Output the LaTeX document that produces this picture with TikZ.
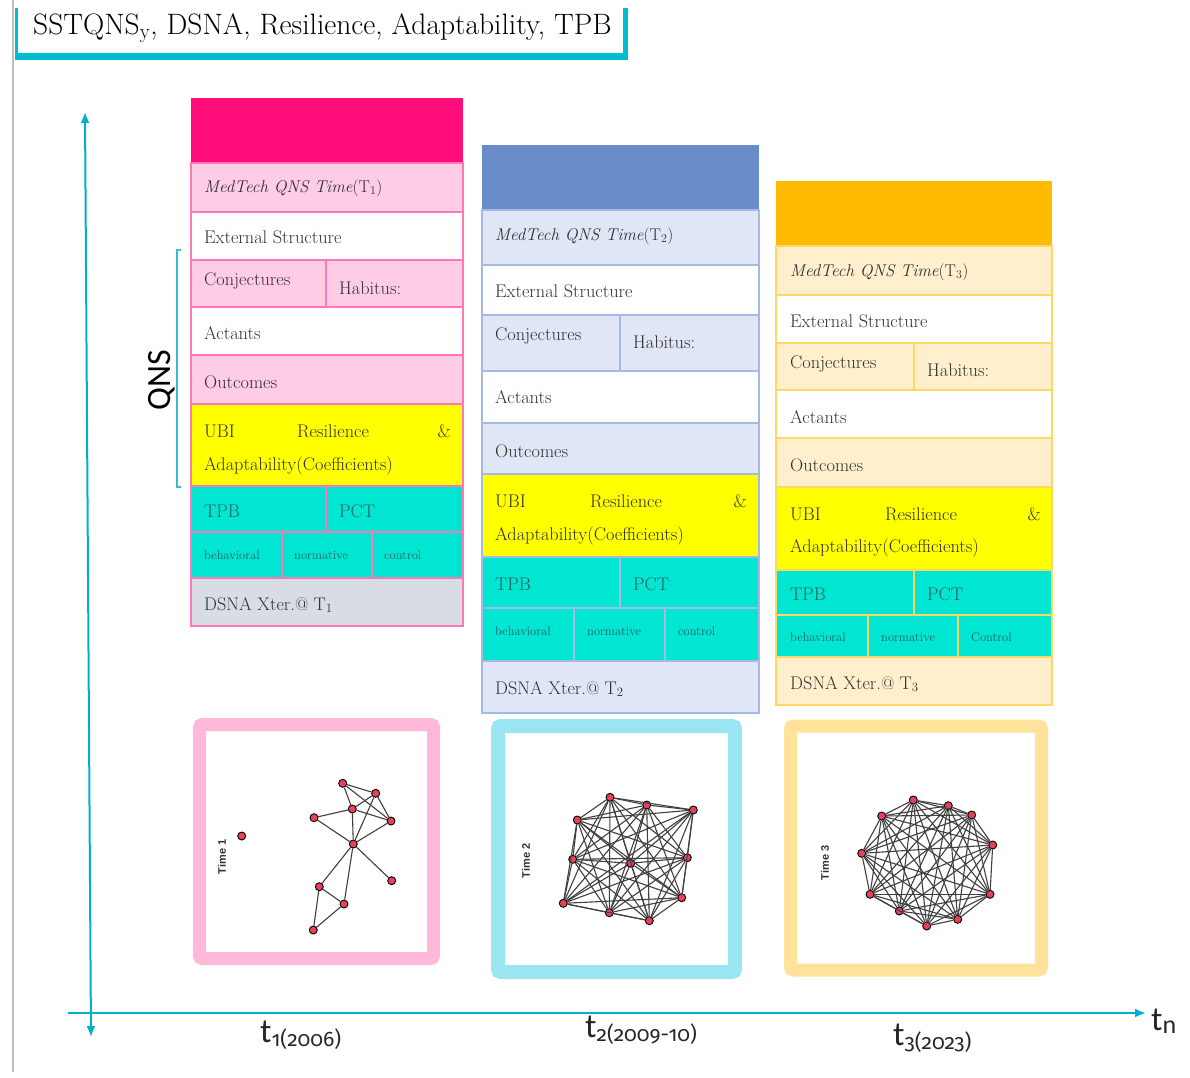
\documentclass[tikz,border=0pt]{standalone}
\usepackage{fontspec}
\newfontfamily\calib{Carlito}
\newfontfamily\oldnum[Numbers=OldStyle]{Fira Sans}
\newfontfamily\arialf{Liberation Sans}
\usetikzlibrary{arrows.meta}
\definecolor{magentaH}{HTML}{FF0D7B}
\definecolor{pinkL}{HTML}{FFCCE5}
\definecolor{pinkB}{HTML}{FF77B4}
\definecolor{blueH}{HTML}{6A8BCA}
\definecolor{blueL}{HTML}{E0E6F5}
\definecolor{blueB}{HTML}{A6B8E4}
\definecolor{orangeH}{HTML}{FFBB00}
\definecolor{creamL}{HTML}{FFEFCC}
\definecolor{orangeB}{HTML}{FFD863}
\definecolor{yellowU}{HTML}{FFFF00}
\definecolor{tealC}{HTML}{00E6D3}
\definecolor{grayD}{HTML}{D8DCE4}
\definecolor{txtgray}{HTML}{303030}
\definecolor{tealtxt}{HTML}{2A5F5B}
\definecolor{axisteal}{HTML}{00AFC8}
\definecolor{titlebar}{HTML}{00BCD0}
\definecolor{framePink}{HTML}{FFB8D8}
\definecolor{frameCyan}{HTML}{99E5F2}
\definecolor{frameYel}{HTML}{FFE39A}
\definecolor{netred}{HTML}{E8405A}

\tikzset{
  cellt/.style={anchor=west, inner sep=0pt, text=txtgray, font=\fontsize{18.3}{18}\selectfont},
  medt/.style={cellt, font=\fontsize{17}{17}\selectfont},
  tpbt/.style={cellt, text=tealtxt},
  smallt/.style={cellt, text=tealtxt, font=\fontsize{12.5}{12.5}\selectfont},
  netnode/.style={circle, draw=black, fill=netred, inner sep=0pt, minimum size=8pt, line width=0.9pt},
  netedge/.style={black!75, line width=1.1pt},
  timet/.style={rotate=90, text=black!80, font=\arialf\bfseries\fontsize{11}{11}\selectfont},
  axis/.style={axisteal, line width=2pt},
  tlabel/.style={anchor=base west, inner sep=0pt, text=black!85, font=\calib\fontsize{34}{34}\selectfont}
}

\begin{document}
\begin{tikzpicture}[x=1pt, y=-1pt, >={Latex[length=11pt, width=9pt]}]
\useasboundingbox (0,0) rectangle (1190,1077);

% Page edge and title box
\draw[black!25, line width=1.5pt] (13,0) -- (13,1072);
\draw[titlebar, line width=3pt] (16,8) -- (16,60);
\draw[titlebar, line width=7pt] (15,56.5) -- (628,56.5);
\draw[titlebar, line width=5pt] (625.5,8) -- (625.5,60);
\node[anchor=west, inner sep=0pt, font=\fontsize{29.5}{29.5}\selectfont] (title) at (33,28)
  {SSTQNS\textsubscript{y}, DSNA, Resilience, Adaptability, TPB};

% Axes
\coordinate (ytop) at (85,112);
\coordinate (ybot) at (91,1037);
\coordinate (xl) at (68,1013);
\coordinate (xr) at (1146,1013);
\draw[axis, <->] (ybot) -- (ytop);
\draw[axis, ->] (xl) -- (xr);
\node[tlabel] (tn) at (1151,1030) {t\raisebox{-3pt}{\fontsize{26}{26}\selectfont n}};
\node[tlabel] (t1) at (260,1042) {t\raisebox{-4pt}{\oldnum\fontsize{21}{21}\selectfont 1(2006)}};
\node[tlabel] (t2) at (585,1037) {t\raisebox{-4pt}{\oldnum\fontsize{21}{21}\selectfont 2(2009-10)}};
\node[tlabel] (t3) at (893,1045) {t\raisebox{-4pt}{\oldnum\fontsize{21}{21}\selectfont 3(2023)}};

% QNS bracket
\draw[axisteal!80, line width=1.8pt] (181,250) -- (177,250) -- (177,487) -- (181,487);
\node[rotate=90, font=\calib\fontsize{34}{34}\selectfont] (qns) at (162,380) {QNS};

% Column 1: T1
\fill[magentaH] (191,98) rectangle (463,163);
\foreach \ya/\yb/\fc in {163/212/pinkL, 212/260/white, 260/307/pinkL, 307/355/white, 355/404/pinkL,
                         404/486/yellowU, 486/532/tealC, 532/578/tealC, 578/626/grayD}
  \filldraw[fill=\fc, draw=pinkB, line width=2pt] (191,\ya) rectangle (463,\yb);
\draw[pinkB, line width=2pt] (326,260) -- (326,307) (326,486) -- (326,532)
  (282,532) -- (282,578) (372,532) -- (372,578);
\node[medt] (a-med) at (204,188) {\textit{MedTech QNS Time}(T\textsubscript{1})};
\node[cellt] (a-ext) at (204,237) {External Structure};
\node[cellt] (a-conj) at (204,281) {Conjectures};
\node[cellt] (a-hab) at (339,288) {Habitus:};
\node[cellt] (a-act) at (204,333) {Actants};
\node[cellt] (a-out) at (204,382) {Outcomes};
\node[cellt] (a-ubi) at (204,431) {UBI};
\node[cellt] (a-res) at (297,431) {Resilience};
\node[cellt, anchor=east] (a-amp) at (451,431) {\&};
\node[cellt] (a-adp) at (204,466) {Adaptability(Coefficients)};
\node[tpbt] (a-tpb) at (204,511) {TPB};
\node[tpbt] (a-pct) at (339,511) {PCT};
\node[smallt] (a-beh) at (204,555) {behavioral};
\node[smallt] (a-nor) at (294,555) {normative};
\node[smallt] (a-con) at (384,555) {control};
\node[cellt] (a-dsna) at (204,605) {DSNA Xter.@ T\textsubscript{1}};

% Column 2: T2
\fill[blueH] (482,145) rectangle (759,210);
\foreach \ya/\yb/\fc in {210/265/blueL, 265/315/white, 315/371/blueL, 371/423/white, 423/474/blueL,
                         474/557/yellowU, 557/608/tealC, 608/661/tealC, 661/713/blueL}
  \filldraw[fill=\fc, draw=blueB, line width=2pt] (482,\ya) rectangle (759,\yb);
\draw[blueB, line width=2pt] (620,315) -- (620,371) (620,557) -- (620,608)
  (574,608) -- (574,661) (665,608) -- (665,661);
\node[medt] (b-med) at (495,236) {\textit{MedTech QNS Time}(T\textsubscript{2})};
\node[cellt] (b-ext) at (495,291) {External Structure};
\node[cellt] (b-conj) at (495,336) {Conjectures};
\node[cellt] (b-hab) at (633,342) {Habitus:};
\node[cellt] (b-act) at (495,397) {Actants};
\node[cellt] (b-out) at (495,451) {Outcomes};
\node[cellt] (b-ubi) at (495,501) {UBI};
\node[cellt] (b-res) at (590,501) {Resilience};
\node[cellt, anchor=east] (b-amp) at (747,501) {\&};
\node[cellt] (b-adp) at (495,536) {Adaptability(Coefficients)};
\node[tpbt] (b-tpb) at (495,584) {TPB};
\node[tpbt] (b-pct) at (633,584) {PCT};
\node[smallt] (b-beh) at (495,631) {behavioral};
\node[smallt] (b-nor) at (587,631) {normative};
\node[smallt] (b-con) at (678,631) {control};
\node[cellt] (b-dsna) at (495,689) {DSNA Xter.@ T\textsubscript{2}};

% Column 3: T3
\fill[orangeH] (776,181) rectangle (1052,246);
\foreach \ya/\yb/\fc in {246/295/creamL, 295/343/white, 343/390/creamL, 390/438/white, 438/487/creamL,
                         487/570/yellowU, 570/615/tealC, 615/657/tealC, 657/705/creamL}
  \filldraw[fill=\fc, draw=orangeB, line width=2pt] (776,\ya) rectangle (1052,\yb);
\draw[orangeB, line width=2pt] (914,343) -- (914,390) (914,570) -- (914,615)
  (868,615) -- (868,657) (958,615) -- (958,657);
\node[medt] (c-med) at (790,272) {\textit{MedTech QNS Time}(T\textsubscript{3})};
\node[cellt] (c-ext) at (790,321) {External Structure};
\node[cellt] (c-conj) at (790,364) {Conjectures};
\node[cellt] (c-hab) at (927,370) {Habitus:};
\node[cellt] (c-act) at (790,417) {Actants};
\node[cellt] (c-out) at (790,465) {Outcomes};
\node[cellt] (c-ubi) at (790,514) {UBI};
\node[cellt] (c-res) at (885,514) {Resilience};
\node[cellt, anchor=east] (c-amp) at (1041,514) {\&};
\node[cellt] (c-adp) at (790,548) {Adaptability(Coefficients)};
\node[tpbt] (c-tpb) at (790,594) {TPB};
\node[tpbt] (c-pct) at (927,594) {PCT};
\node[smallt] (c-beh) at (790,637) {behavioral};
\node[smallt] (c-nor) at (881,637) {normative};
\node[smallt] (c-con) at (971,637) {Control};
\node[cellt] (c-dsna) at (790,684) {DSNA Xter.@ T\textsubscript{3}};

% Network frames
\draw[framePink, fill=white, line width=13pt, rounded corners=3pt] (199.5,724.5) rectangle (433.5,958.5);
\draw[frameCyan, fill=white, line width=14pt, rounded corners=3pt] (498,726) rectangle (735,972);
\draw[frameYel, fill=white, line width=13pt, rounded corners=3pt] (790.5,726) rectangle (1041.5,970);
\node[timet] (time1) at (222,857) {Time 1};
\node[timet] (time2) at (526,861) {Time 2};
\node[timet] (time3) at (825,863) {Time 3};

% Network at Time 1
\node[netnode] (g1z) at (241.7,836) {};
\foreach \n/\x/\y in {a/342.7/783.3, b/375.7/793.3, c/352.3/809, d/314/817.7, e/391/821, f/353.3/844,
                      g/391.7/880.7, h/319.3/886.7, i/344/904, j/313.3/930}
  \node[netnode] (g1\n) at (\x,\y) {};
\foreach \u/\v in {a/b, a/c, a/e, b/c, b/e, b/f, c/d, c/e, c/f, d/f, e/f, f/g, f/h, f/i, h/i, h/j, i/j}
  \draw[netedge] (g1\u) -- (g1\v);

% Network at Time 2
\foreach \x/\y [count=\i] in {610/797.3, 646.7/805, 693.3/810, 577.3/820, 572.7/859.3, 630.7/863.3,
                              687.3/857.7, 563.3/903.3, 609.3/912.7, 649.3/920.7, 681.7/897.7}
  \node[netnode] (g2-\i) at (\x,\y) {};
\foreach \i in {1,...,10} {
  \pgfmathtruncatemacro\k{\i+1}
  \foreach \j in {\k,...,11}
    \draw[netedge] (g2-\i) -- (g2-\j);
}

% Network at Time 3
\foreach \x/\y [count=\i] in {913.3/800, 948.3/805.7, 971.7/815, 992.7/845, 990/894.3, 957.7/919.3,
                              926.7/926, 899.3/911, 870/894.3, 861.7/853.3, 881.7/816}
  \node[netnode] (g3-\i) at (\x,\y) {};
\foreach \i in {1,...,10} {
  \pgfmathtruncatemacro\k{\i+1}
  \foreach \j in {\k,...,11}
    \draw[netedge] (g3-\i) -- (g3-\j);
}

\end{tikzpicture}
\end{document}
